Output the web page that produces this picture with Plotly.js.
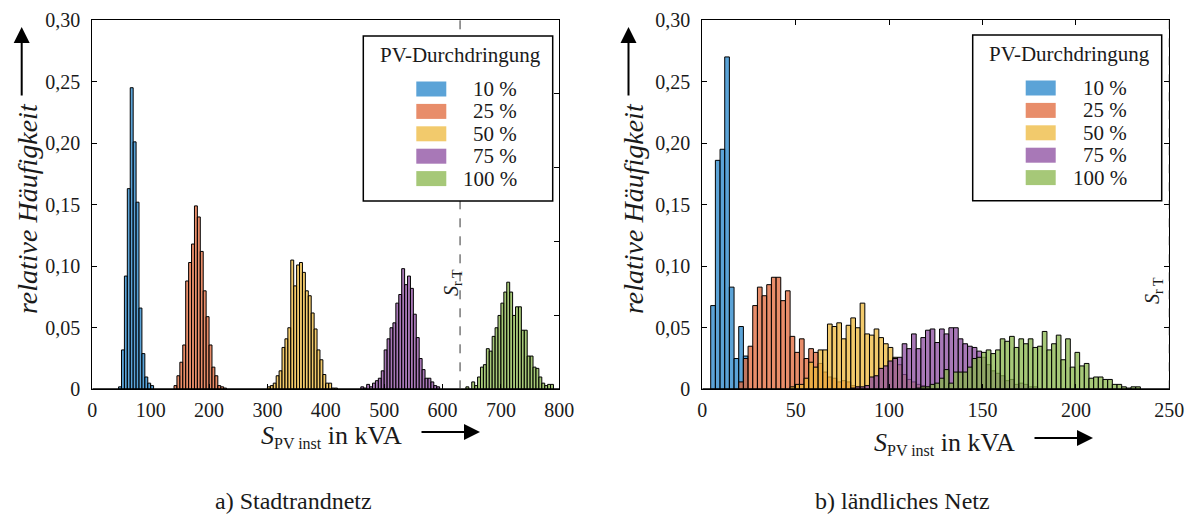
<!DOCTYPE html>
<html>
<head>
<meta charset="utf-8">
<script src="https://cdn.plot.ly/plotly-3.0.1.min.js"></script>
<style>
  html, body { margin: 0; padding: 0; background: #ffffff; }
  #chart { width: 1198px; height: 516px; }
</style>
</head>
<body>
<div id="chart"></div>
<script>
// PV penetration levels shown in both panels
const seriesNames  = ['10 %', '25 %', '50 %', '75 %', '100 %'];
const swatchColors = ['#5ba3d7', '#e88d6a', '#f2ca6c', '#a878b7', '#a6c878'];
const barFills     = ['rgba(36,132,202,0.75)', 'rgba(224,103,56,0.75)', 'rgba(238,184,59,0.75)',
                      'rgba(139,75,159,0.75)', 'rgba(136,182,75,0.75)'];

// a) Stadtrandnetz – relative frequency per 5 kVA bin
const urbanBinWidth = 5;
const urbanBinStart = [45, 140, 300, 460, 640];
const urban10  = [0.002, 0.032, 0.092, 0.163, 0.245, 0.201, 0.152, 0.066, 0.029, 0.010, 0.005, 0.003];
const urban25  = [0.003, 0.011, 0.022, 0.036, 0.088, 0.103, 0.118, 0.149, 0.140, 0.112, 0.080, 0.059,
                  0.036, 0.018, 0.011, 0.003, 0.002, 0.001];
const urban50  = [0.002, 0.003, 0.005, 0.011, 0.015, 0.034, 0.041, 0.050, 0.105, 0.084, 0.101, 0.103,
                  0.095, 0.080, 0.076, 0.062, 0.049, 0.032, 0.024, 0.012, 0.005, 0.005, 0.001, 0.001];
const urban75  = [0.002, 0.001, 0.004, 0.002, 0.005, 0.007, 0.009, 0.015, 0.032, 0.041, 0.050, 0.054,
                  0.070, 0.077, 0.098, 0.085, 0.092, 0.082, 0.061, 0.042, 0.025, 0.016, 0.009, 0.009,
                  0.006, 0.003, 0.002];
const urban100 = [0.002, 0.000, 0.006, 0.003, 0.010, 0.018, 0.020, 0.033, 0.031, 0.043, 0.050, 0.060,
                  0.070, 0.079, 0.087, 0.079, 0.060, 0.067, 0.067, 0.048, 0.048, 0.027, 0.027, 0.018,
                  0.017, 0.010, 0.005, 0.003, 0.004, 0.004];

// b) ländliches Netz – relative frequency per 2.5 kVA bin
const ruralBinWidth = 2.5;
const ruralBinStart = [4.5, 19.5, 47, 79.5, 114.5];
const rural10  = [0.068, 0.186, 0.195, 0.270, 0.083, 0.025, 0.051, 0.027];
const rural25  = [0.006, 0.025, 0.035, 0.068, 0.083, 0.076, 0.085, 0.091, 0.091, 0.072, 0.080, 0.043,
                  0.030, 0.041, 0.025, 0.033, 0.030, 0.021, 0.014, 0.010, 0.009, 0.006, 0.007, 0.006,
                  0.003, 0.002];
const rural50  = [0.002, 0.004, 0.004, 0.009, 0.022, 0.018, 0.032, 0.032, 0.053, 0.051, 0.054, 0.041,
                  0.052, 0.058, 0.050, 0.070, 0.045, 0.044, 0.049, 0.042, 0.037, 0.034, 0.026, 0.020,
                  0.012, 0.008, 0.006, 0.004, 0.003, 0.002];
const rural75  = [0.001, 0.002, 0.002, 0.003, 0.010, 0.011, 0.017, 0.019, 0.023, 0.025, 0.026, 0.037,
                  0.033, 0.045, 0.033, 0.042, 0.048, 0.049, 0.038, 0.049, 0.045, 0.050, 0.050, 0.041,
                  0.037, 0.035, 0.034, 0.031, 0.026, 0.020, 0.015, 0.013, 0.011, 0.007, 0.008, 0.004,
                  0.005, 0.004, 0.002, 0.002];
const rural100 = [0.001, 0.002, 0.002, 0.004, 0.005, 0.009, 0.016, 0.005, 0.014, 0.014, 0.014, 0.018,
                  0.025, 0.026, 0.030, 0.032, 0.029, 0.032, 0.041, 0.039, 0.043, 0.034, 0.041, 0.037,
                  0.041, 0.034, 0.035, 0.047, 0.032, 0.037, 0.044, 0.024, 0.041, 0.018, 0.030, 0.019,
                  0.021, 0.009, 0.010, 0.010, 0.008, 0.008, 0.004, 0.004, 0.002, 0.001, 0.002, 0.002];

// rated transformer power per grid
const ratedPower = [630, 250];

// axis ticks
const urbanTicks = [0, 100, 200, 300, 400, 500, 600, 700, 800];
const ruralTicks = [0, 50, 100, 150, 200, 250];
const freqTicks  = [0, 0.05, 0.10, 0.15, 0.20, 0.25, 0.30];
const freqLabels = ['0', '0,05', '0,10', '0,15', '0,20', '0,25', '0,30'];
const urbanRightTicks = [0.06, 0.12, 0.18, 0.24];

const panelCaptions = ['a) Stadtrandnetz', 'b) ländliches Netz'];
const legendTitle = 'PV-Durchdringung';

// ---------------------------------------------------------------------------
const W = 1198, H = 516;
const fx = x => x / W;
const fy = y => 1 - y / H;
const FONT = 'Liberation Serif, Times New Roman, serif';
const INK = '#1a1a1a';

function centers(start, width, values) {
  return values.map((_, i) => start + (i + 0.5) * width);
}

const urbanSeries = [urban10, urban25, urban50, urban75, urban100];
const ruralSeries = [rural10, rural25, rural50, rural75, rural100];

const traces = [];
urbanSeries.forEach((vals, s) => {
  traces.push({
    type: 'bar', xaxis: 'x', yaxis: 'y',
    x: centers(urbanBinStart[s], urbanBinWidth, vals), y: vals, width: urbanBinWidth,
    marker: { color: barFills[s], line: { color: '#000', width: 1 } },
    name: seriesNames[s], showlegend: false, hoverinfo: 'skip'
  });
});
ruralSeries.forEach((vals, s) => {
  traces.push({
    type: 'bar', xaxis: 'x2', yaxis: 'y2',
    x: centers(ruralBinStart[s], ruralBinWidth, vals), y: vals, width: ruralBinWidth,
    marker: { color: barFills[s], line: { color: '#000', width: 1 } },
    name: seriesNames[s], showlegend: false, hoverinfo: 'skip'
  });
});
// carrier for the extra right-hand tick scale of panel a)
traces.push({ type: 'scatter', mode: 'none', x: [0], y: [0], xaxis: 'x', yaxis: 'y3',
              showlegend: false, hoverinfo: 'skip' });

const yDomain = [(H - 389.3) / H, (H - 20) / H];
const tickFont = { family: FONT, size: 20, color: INK };

function xAxis(domain, range, ticks, mirror) {
  return {
    domain, range, tickvals: ticks, ticktext: ticks.map(String),
    ticks: 'inside', ticklen: 5, tickwidth: 1, tickcolor: '#000',
    showline: true, linecolor: '#000', linewidth: 1, mirror,
    showgrid: false, zeroline: false, tickfont: tickFont, ticklabelstandoff: 3,
    fixedrange: true
  };
}
function yAxis(anchor, mirror) {
  return {
    domain: yDomain, range: [0, 0.3], anchor, tickvals: freqTicks, ticktext: freqLabels,
    ticks: 'inside', ticklen: 5, tickwidth: 1, tickcolor: '#000',
    showline: true, linecolor: '#000', linewidth: 1, mirror,
    showgrid: false, zeroline: false, tickfont: tickFont, ticklabelstandoff: 7,
    fixedrange: true
  };
}

const panels = [
  { xa: 'x',  ya: 'y',  range: [0, 800], legend: [363.3, 36, 552.7, 201],
    yTitleX: 27,  arrowX: 21.7, xTitle: [331, 436], xArrow: [420, 480, 432], srLabel: [452, 283],
    caption: 293 },
  { xa: 'x2', ya: 'y2', range: [0, 250], legend: [972.7, 35, 1161.7, 200.7],
    yTitleX: 633, arrowX: 628.5, xTitle: [944, 443], xArrow: [1033, 1093, 438], srLabel: [1153, 291],
    caption: 902 }
];

const shapes = [];
const annotations = [];

function label(x, y, text, size, extra) {
  return Object.assign({ xref: 'paper', yref: 'paper', x: fx(x), y: fy(y), xanchor: 'center',
                         yanchor: 'middle', text, showarrow: false,
                         font: { family: FONT, size, color: INK } }, extra || {});
}
function arrow(xHead, yHead, dx, dy) {
  return { xref: 'paper', yref: 'paper', x: fx(xHead), y: fy(yHead), ax: dx, ay: dy,
           axref: 'pixel', ayref: 'pixel', text: '', showarrow: true,
           arrowhead: 2, arrowsize: 1.6, arrowwidth: 2, arrowcolor: '#000' };
}

const xTitleText = '<i>S</i><sub><span style="font-size:16px">PV inst</span></sub> in kVA';

panels.forEach((p, k) => {
  // heavy baseline under the bars
  shapes.push({ type: 'line', xref: p.xa, yref: p.ya, x0: p.range[0], x1: p.range[1], y0: 0, y1: 0,
                line: { color: '#000', width: 2 } });
  // rated transformer power
  shapes.push({ type: 'line', xref: p.xa, yref: p.ya + ' domain', x0: ratedPower[k], x1: ratedPower[k],
                y0: 0, y1: 1, line: { color: '#333', width: 1, dash: 'dash' } });
  annotations.push(label(p.srLabel[0], p.srLabel[1], '<i>S</i><sub>r T</sub>', 20, { textangle: -90 }));

  // legend box
  const [bx0, by0, bx1, by1] = p.legend;
  shapes.push({ type: 'rect', xref: 'paper', yref: 'paper', x0: fx(bx0), x1: fx(bx1), y0: fy(by1), y1: fy(by0),
                fillcolor: '#ffffff', line: { color: '#000', width: 1.5 } });
  annotations.push(label((bx0 + bx1) / 2 + 2, by0 + 19, legendTitle, 21));
  seriesNames.forEach((name, s) => {
    const rowY = by0 + 53 + s * 22.4;
    const sx = bx0 + 53;
    shapes.push({ type: 'rect', xref: 'paper', yref: 'paper', x0: fx(sx), x1: fx(sx + 30),
                  y0: fy(rowY + 7.5), y1: fy(rowY - 7.5), fillcolor: swatchColors[s],
                  line: { width: 0 } });
    annotations.push(label(bx0 + 156, rowY, name, 21, { xanchor: 'right' }));
  });

  // y-axis title with arrow
  annotations.push(label(p.yTitleX, 209, '<i>relative Häufigkeit</i>', 28, { textangle: -90 }));
  annotations.push(arrow(p.arrowX, 27, 0, 70));

  // x-axis title with arrow
  annotations.push(label(p.xTitle[0], p.xTitle[1], xTitleText, 26));
  annotations.push(arrow(p.xArrow[1], p.xArrow[2], -(p.xArrow[1] - p.xArrow[0]), 0));

  // caption
  annotations.push(label(p.caption, 501, panelCaptions[k], 24));
});

const layout = {
  width: W, height: H,
  margin: { l: 0, r: 0, t: 0, b: 0, pad: 0 },
  paper_bgcolor: '#ffffff', plot_bgcolor: '#ffffff',
  barmode: 'overlay', bargap: 0,
  showlegend: false,
  font: { family: FONT, color: INK },
  xaxis:  Object.assign(xAxis([fx(92.3), fx(559.3)], [0, 800], urbanTicks, true), { anchor: 'y' }),
  yaxis:  yAxis('x', true),
  xaxis2: Object.assign(xAxis([fx(702.3), fx(1169.3)], [0, 250], ruralTicks, 'ticks'), { anchor: 'y2' }),
  yaxis2: yAxis('x2', 'ticks'),
  yaxis3: {
    overlaying: 'y', anchor: 'x', side: 'right', range: [0, 0.3], tickvals: urbanRightTicks,
    ticks: 'inside', ticklen: 5, tickwidth: 1, tickcolor: '#000', showticklabels: false,
    showline: false, showgrid: false, zeroline: false, fixedrange: true
  },
  shapes, annotations
};

Plotly.newPlot('chart', traces, layout, { displayModeBar: false, staticPlot: true });
</script>
</body>
</html>
